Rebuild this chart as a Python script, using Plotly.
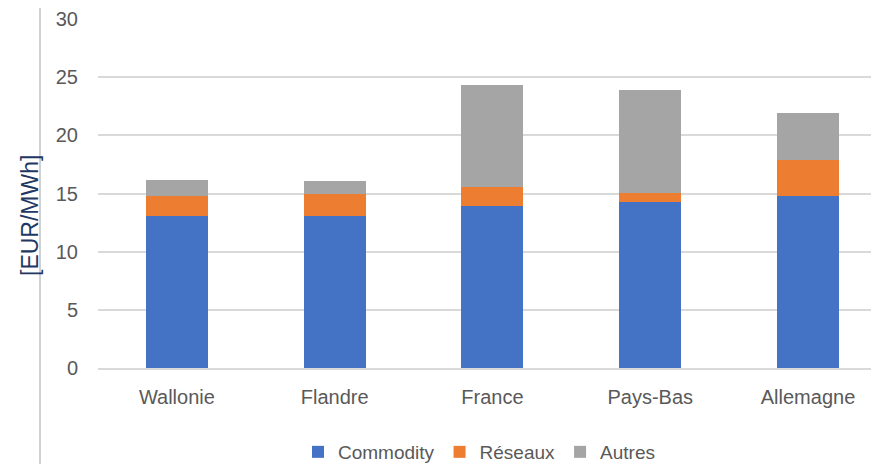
import plotly.graph_objects as go

categories = ["Wallonie", "Flandre", "France", "Pays-Bas", "Allemagne"]
commodity = [13.1, 13.1, 13.9, 14.25, 14.75]
reseaux = [1.7, 1.85, 1.7, 0.8, 3.1]
autres = [1.35, 1.15, 8.7, 8.85, 4.1]
y_ticks = [0, 5, 10, 15, 20, 25, 30]

series = [
    ("Commodity", commodity, "#4472C4"),
    ("Réseaux", reseaux, "#ED7D31"),
    ("Autres", autres, "#A5A5A5"),
]

fig = go.Figure()
for name, vals, col in series:
    fig.add_trace(go.Bar(x=categories, y=vals, name=name, marker=dict(color=col, line=dict(width=0))))

# page body has an 8px offset; positions below are in figure pixels
OFF = 8
W, H = 879, 464
L, R, T, B = 90, 8, 11, 104
pw = W - L - R
ph = H - T - B

fig.update_layout(
    width=W, height=H,
    barmode="stack", bargap=0.607,
    paper_bgcolor="white", plot_bgcolor="white",
    margin=dict(l=L, r=R, t=T, b=B, autoexpand=False),
    font=dict(family="Liberation Sans, Arial, sans-serif", size=20, color="#595959"),
    showlegend=True,
    legend=dict(orientation="h", x=(479 - OFF - L) / pw, xanchor="center",
                y=-(452 - 368) / ph, yanchor="middle",
                font=dict(size=19, color="#595959"), itemwidth=30, traceorder="normal"),
    xaxis=dict(range=[-0.5, 4.45], showgrid=False, showline=True, linecolor="#D9D9D9", linewidth=1.5,
               ticks="", ticklabelstandoff=10, tickfont=dict(size=20, color="#595959")),
    yaxis=dict(range=[0, 30], tickvals=y_ticks, showgrid=True, gridcolor="#D9D9D9", gridwidth=1.5,
               zeroline=False, showline=False, ticks="", ticklabelstandoff=19,
               tickfont=dict(size=20, color="#595959")),
    annotations=[dict(text="[EUR/MWh]", textangle=-90, xref="paper", yref="paper",
                      x=(30 - OFF - L) / pw, y=(368 - 216) / ph, xanchor="center", yanchor="middle",
                      showarrow=False, font=dict(size=23, color="#1F3864"))],
    shapes=[dict(type="line", xref="paper", yref="paper", x0=(40 - OFF - L) / pw, x1=(40 - OFF - L) / pw,
                 y0=-B / ph, y1=(H - B) / ph,
                 line=dict(color="#D0D0D0", width=2))],
)

fig.write_html("out.html")
